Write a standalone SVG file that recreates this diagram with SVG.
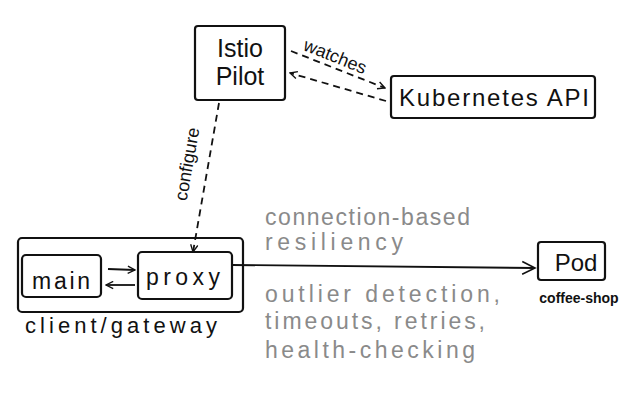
<svg xmlns="http://www.w3.org/2000/svg" width="640" height="400" viewBox="0 0 640 400">
<defs>
<style>
.box{fill:none;stroke:#111;stroke-width:2.2;stroke-linejoin:round}
.ln{fill:none;stroke:#111;stroke-width:1.8}
.dash{stroke-dasharray:7 5}
.t{font-family:"Liberation Sans",Arial,sans-serif;fill:#111}
.g{font-family:"Liberation Sans",Arial,sans-serif;fill:#8a8a8a;font-size:23px}
</style>
<marker id="ah" viewBox="0 0 10 10" refX="9" refY="5" markerWidth="9" markerHeight="9" orient="auto" markerUnits="userSpaceOnUse">
<path d="M1,1 L9,5 L1,9" fill="none" stroke="#111" stroke-width="1.5"/>
</marker>
<marker id="ahl" viewBox="0 0 10 10" refX="9" refY="5" markerWidth="16" markerHeight="16" orient="auto" markerUnits="userSpaceOnUse">
<path d="M1,1 L9,5 L1,9" fill="none" stroke="#111" stroke-width="1"/>
</marker>
</defs>
<rect width="640" height="400" fill="#fff"/>

<g id="pilot">
<rect class="box" x="195" y="26" width="90" height="74" rx="3"/>
<text class="t" x="240" y="57" font-size="25" text-anchor="middle">Istio</text>
<text class="t" x="240" y="85" font-size="25" text-anchor="middle">Pilot</text>
</g>

<g id="kubernetes">
<rect class="box" x="391" y="76" width="204" height="42" rx="3"/>
<text class="t" x="494" y="106" font-size="24" text-anchor="middle" textLength="190" lengthAdjust="spacing">Kubernetes API</text>
</g>

<g id="client">
<rect class="box" x="18" y="238" width="225" height="74" rx="4"/>
<text class="t" x="25" y="333" font-size="22" textLength="192" lengthAdjust="spacing">client/gateway</text>
</g>

<g id="main">
<rect class="box" x="22" y="255" width="79" height="42" rx="4"/>
<text class="t" x="61" y="289" font-size="23" text-anchor="middle" textLength="58" lengthAdjust="spacing">main</text>
</g>

<g id="proxy">
<rect class="box" x="138" y="252" width="94" height="47" rx="4"/>
<text class="t" x="146" y="285" font-size="23" textLength="74" lengthAdjust="spacing">proxy</text>
</g>

<g id="pod">
<rect class="box" x="538" y="242" width="67" height="38" rx="3"/>
<text class="t" x="576" y="271" font-size="24" text-anchor="middle">Pod</text>
<text class="t" x="579" y="303" font-size="14" text-anchor="middle" font-weight="bold">coffee-shop</text>
</g>

<g id="connectors">
<line class="ln dash" x1="291" y1="51" x2="385" y2="88" marker-end="url(#ah)"/>
<line class="ln dash" x1="386" y1="101" x2="290" y2="73" marker-end="url(#ah)"/>
<line class="ln dash" x1="219" y1="103" x2="193" y2="252" marker-end="url(#ah)"/>
<line class="ln" x1="108" y1="269" x2="135" y2="270" marker-end="url(#ah)"/>
<line class="ln" x1="135" y1="285" x2="106" y2="285" marker-end="url(#ah)"/>
<path class="ln" d="M232,265 C330,266 430,267 535,268" marker-end="url(#ahl)"/>
</g>

<g id="labels">
<text class="t" x="333" y="62" font-size="18" text-anchor="middle" transform="rotate(22 333 62)">watches</text>
<text class="t" x="193" y="165" font-size="18" text-anchor="middle" transform="rotate(-80 193 165)">configure</text>
<text class="g" x="265" y="225" textLength="205" lengthAdjust="spacing">connection-based</text>
<text class="g" x="265" y="250" textLength="138" lengthAdjust="spacing">resiliency</text>
<text class="g" x="265" y="302" textLength="235" lengthAdjust="spacing">outlier detection,</text>
<text class="g" x="265" y="329" textLength="220" lengthAdjust="spacing">timeouts, retries,</text>
<text class="g" x="265" y="358" textLength="210" lengthAdjust="spacing">health-checking</text>
</g>
</svg>
